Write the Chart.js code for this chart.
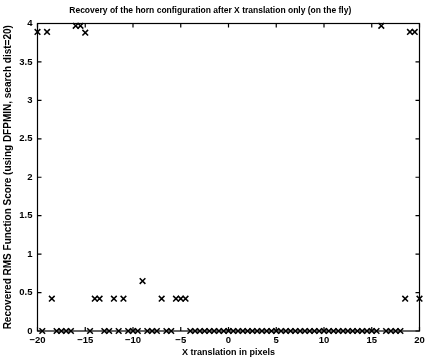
<!DOCTYPE html>
<html lang="en">
<head>
    <meta charset="UTF-8">
    <title>Recovery of the horn configuration</title>
    <script src="https://cdn.jsdelivr.net/npm/chart.js"></script>
    <style>
        body { margin: 0; padding: 0; background: #fff; }
        #wrap { width: 425px; height: 362px; }
    </style>
</head>
<body>
    <div id="wrap"><canvas id="hornChart" width="425" height="362"></canvas></div>

    <script>
        // X translation (pixels) and recovered RMS score
        const xShift = [
            -20, -19.5, -19, -18.5, -18, -17.5, -17, -16.5, -16, -15.5,
            -15, -14.5, -14, -13.5, -13, -12.5, -12, -11.5, -11, -10.5,
            -10, -9.5, -9, -8.5, -8, -7.5, -7, -6.5, -6, -5.5,
            -5, -4.5, -4, -3.5, -3, -2.5, -2, -1.5, -1, -0.5,
            0, 0.5, 1, 1.5, 2, 2.5, 3, 3.5, 4, 4.5,
            5, 5.5, 6, 6.5, 7, 7.5, 8, 8.5, 9, 9.5,
            10, 10.5, 11, 11.5, 12, 12.5, 13, 13.5, 14, 14.5,
            15, 15.5, 16, 16.5, 17, 17.5, 18, 18.5, 19, 19.5, 20
        ];
        const rmsScore = [
            3.89, 0, 3.89, 0.42, 0, 0, 0, 0, 3.97, 3.97,
            3.88, 0, 0.42, 0.42, 0, 0, 0.42, 0, 0.42, 0,
            0, 0, 0.65, 0, 0, 0, 0.42, 0, 0, 0.42,
            0.42, 0.42, 0, 0, 0, 0, 0, 0, 0, 0,
            0, 0, 0, 0, 0, 0, 0, 0, 0, 0,
            0, 0, 0, 0, 0, 0, 0, 0, 0, 0,
            0, 0, 0, 0, 0, 0, 0, 0, 0, 0,
            0, 0, 3.97, 0, 0, 0, 0, 0.42, 3.89, 3.89, 0.42
        ];
        const xTicks = [-20, -15, -10, -5, 0, 5, 10, 15, 20];
        const yTicks = [0, 0.5, 1, 1.5, 2, 2.5, 3, 3.5, 4];

        const fontFam = '"Liberation Sans", Arial, sans-serif';

        // matlab style box with inward ticks on all four sides
        const boxTicks = {
            id: 'boxTicks',
            afterDraw(chart) {
                const { ctx, chartArea: a, scales } = chart;
                const len = 4;
                ctx.save();
                ctx.strokeStyle = '#000';
                ctx.lineWidth = 1.2;
                ctx.strokeRect(a.left, a.top, a.right - a.left, a.bottom - a.top);
                ctx.beginPath();
                xTicks.forEach(v => {
                    const px = scales.x.getPixelForValue(v);
                    ctx.moveTo(px, a.bottom); ctx.lineTo(px, a.bottom - len);
                    ctx.moveTo(px, a.top); ctx.lineTo(px, a.top + len);
                });
                yTicks.forEach(v => {
                    const py = scales.y.getPixelForValue(v);
                    ctx.moveTo(a.left, py); ctx.lineTo(a.left + len, py);
                    ctx.moveTo(a.right, py); ctx.lineTo(a.right - len, py);
                });
                ctx.stroke();
                ctx.restore();
            }
        };

        const ctx = document.getElementById('hornChart').getContext('2d');
        const hornChart = new Chart(ctx, {
            type: 'scatter',
            data: {
                datasets: [{
                    data: xShift.map((x, i) => ({ x: x, y: rmsScore[i] })),
                    pointStyle: 'crossRot',
                    pointRadius: 4,
                    pointBorderWidth: 1.5,
                    borderColor: '#000',
                    backgroundColor: '#000',
                    clip: false
                }]
            },
            options: {
                responsive: false,
                animation: false,
                layout: { padding: { left: 0, right: 4.5, top: 0, bottom: 0 } },
                plugins: {
                    legend: { display: false },
                    tooltip: { enabled: false },
                    title: {
                        display: true,
                        text: 'Recovery of the horn configuration after X translation only (on the fly)',
                        color: '#000',
                        font: { family: fontFam, size: 8.5, weight: 'bold' },
                        padding: { top: 6, bottom: 7.3 }
                    }
                },
                scales: {
                    x: {
                        type: 'linear',
                        min: -20,
                        max: 20,
                        afterBuildTicks: s => { s.ticks = xTicks.map(v => ({ value: v })); },
                        afterFit: s => { s.height = 31; s.paddingLeft = 0; s.paddingRight = 0; },
                        grid: { display: false, drawTicks: false },
                        border: { display: false },
                        ticks: {
                            color: '#000',
                            padding: 4,
                            maxRotation: 0,
                            autoSkip: false,
                            font: { family: fontFam, size: 9.5, weight: 'bold' },
                            callback: v => String(v).replace('-', '\u2212')
                        },
                        title: {
                            display: true,
                            text: 'X translation in pixels',
                            color: '#000',
                            font: { family: fontFam, size: 9, weight: 'bold' },
                            padding: { top: 0, bottom: 4 }
                        }
                    },
                    y: {
                        min: 0,
                        max: 4,
                        afterBuildTicks: s => { s.ticks = yTicks.map(v => ({ value: v })); },
                        afterFit: s => { s.width = 37.5; },
                        grid: { display: false, drawTicks: false },
                        border: { display: false },
                        ticks: {
                            color: '#000',
                            padding: 5,
                            autoSkip: false,
                            font: { family: fontFam, size: 9.5, weight: 'bold' },
                            callback: v => String(v)
                        },
                        title: {
                            display: true,
                            text: 'Recovered RMS Function Score (using DFPMIN, search dist=20)',
                            color: '#000',
                            font: { family: fontFam, size: 10, weight: 'bold' },
                            padding: { top: 2, bottom: 0 }
                        }
                    }
                }
            },
            plugins: [boxTicks]
        });
    </script>
</body>
</html>
